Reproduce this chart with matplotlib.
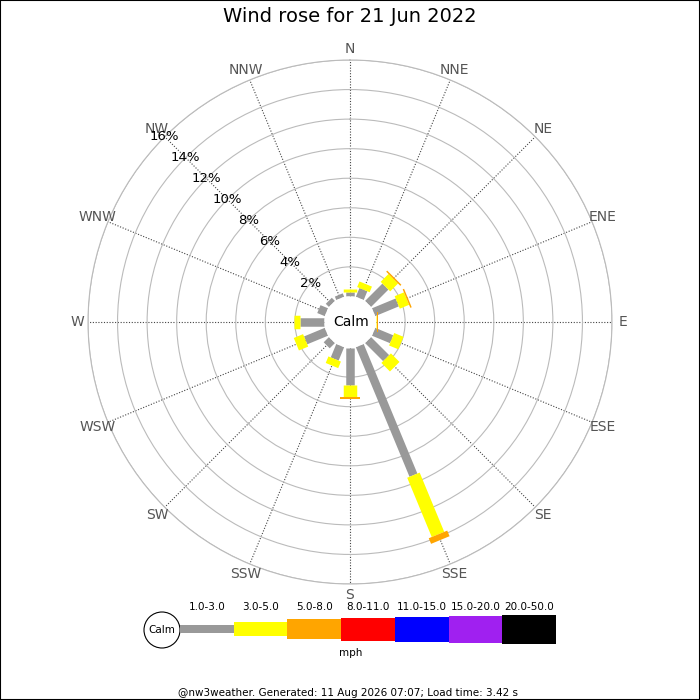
import numpy as np
import matplotlib.pyplot as plt
from matplotlib.patches import Rectangle, Circle

directions = ['N', 'NNE', 'NE', 'ENE', 'E', 'ESE', 'SE', 'SSE',
              'S', 'SSW', 'SW', 'WSW', 'W', 'WNW', 'NW', 'NNW']
speed_bins = ['1.0-3.0', '3.0-5.0', '5.0-8.0', '8.0-11.0',
              '11.0-15.0', '15.0-20.0', '20.0-50.0']
bin_colors = ['#999999', '#ffff00', '#ffa500', '#ff0000',
              '#0000ff', '#a020f0', '#000000']

# percent of time per direction, by speed band (mph)
freq_1_3 = [0.30, 0.64, 1.66, 1.73, 0.04, 1.32, 1.73, 9.49,
            2.54, 0.98, 0.50, 1.52, 1.66, 0.55, 0.30, 0.25]
freq_3_5 = [0.20, 0.41, 0.75, 0.68, 0.05, 0.68, 0.82, 4.34,
            0.80, 0.48, 0.00, 0.68, 0.41, 0.00, 0.00, 0.00]
freq_5_8 = [0.00, 0.00, 0.10, 0.10, 0.08, 0.00, 0.00, 0.41,
            0.11, 0.00, 0.00, 0.00, 0.00, 0.00, 0.00, 0.00]
ring_pcts = [2, 4, 6, 8, 10, 12, 14, 16]

bar_px = [8.5, 13.5, 20, 23, 25, 27, 29]

fig = plt.figure(figsize=(7, 7), dpi=100)
ax = fig.add_axes([88 / 700, 116 / 700, 524 / 700, 524 / 700], projection='polar')
ax.set_theta_zero_location('N')
ax.set_theta_direction(-1)

thetas = np.deg2rad(np.arange(len(directions)) * 22.5)

base = np.zeros(len(directions))
for k, vals in enumerate([freq_1_3, freq_3_5, freq_5_8]):
    vals = np.array(vals)
    for th, b, v in zip(thetas, base, vals):
        if v > 0:
            ax.plot([th, th], [b, b + v], color=bin_colors[k], lw=bar_px[k] * 0.72,
                    solid_capstyle='butt', zorder=3)
    base = base + vals

ax.set_ylim(0, 16)
ax.set_rorigin(-1.73)
ax.set_xticks(thetas)
ax.set_xticklabels([])
ax.set_yticks(ring_pcts)
ax.set_yticklabels([])
ax.tick_params(length=0)
ax.xaxis.grid(True, color='#444444', ls=(0, (1, 1.5)), lw=0.8)
ax.yaxis.grid(True, color='#bbbbbb', ls='-', lw=0.8)
ax.spines['polar'].set_color('#bbbbbb')
ax.spines['polar'].set_linewidth(0.8)
# the inner spine is switched back on at draw time, so make it invisible instead
ax.spines['inner'].set_edgecolor('none')
ax.spines['inner'].set_linewidth(0)
ax.set_axisbelow(True)

for th, d in zip(thetas, directions):
    ax.text(th, 16.75, d, ha='center', va='center', color='#555555',
            fontsize=10, clip_on=False)
for p in ring_pcts:
    ax.text(np.deg2rad(315), p, f'{p}%', ha='center', va='center',
            fontsize=9.5, color='black', zorder=4)

# overlay in pixel coordinates for title, legend and footer
ov = fig.add_axes([0, 0, 1, 1])
ov.set_xlim(0, 700)
ov.set_ylim(700, 0)
ov.axis('off')

ov.text(350, 17, 'Wind rose for 21 Jun 2022', ha='center', va='center', fontsize=14)
ov.text(351, 322, 'Calm', ha='center', va='center', fontsize=10)

ov.add_patch(Circle((162, 630), 18, fc='white', ec='black', lw=0.8))
ov.text(162, 630, 'Calm', ha='center', va='center', fontsize=7.5)
x0, seg_w = 180, 53.7
for i, (lab, col) in enumerate(zip(speed_bins, bin_colors)):
    h = bar_px[i]
    ov.add_patch(Rectangle((x0 + i * seg_w, 629 - h / 2), seg_w, h, color=col, lw=0))
    ov.text(x0 + (i + 0.5) * seg_w, 607, lab, ha='center', va='center', fontsize=7.5)
ov.text(351, 653, 'mph', ha='center', va='center', fontsize=7.5)

ov.text(348, 693, '@nw3weather. Generated: 11 Aug 2026 07:07; Load time: 3.42 s',
        ha='center', va='center', fontsize=7.5)
ov.add_patch(Rectangle((0, 0), 700, 700, fill=False, ec='black', lw=1.5, clip_on=False))

fig.savefig('out.png', dpi=100)
